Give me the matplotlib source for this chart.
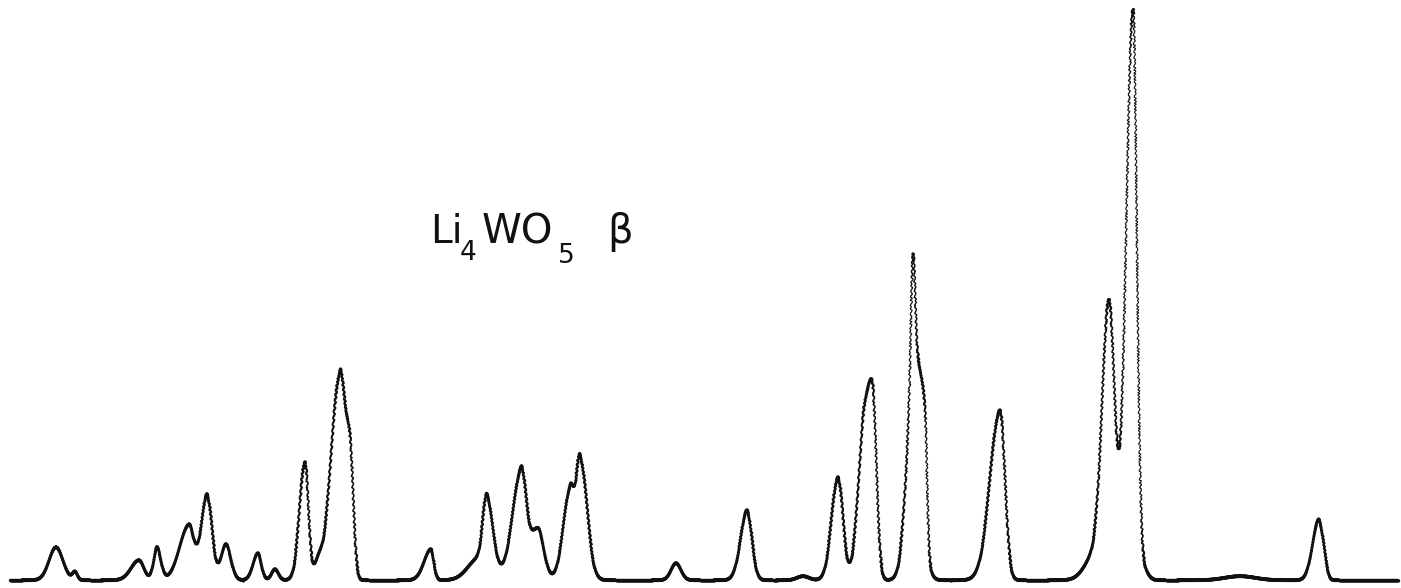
import numpy as np
import matplotlib
matplotlib.use("Agg")
import matplotlib.pyplot as plt
from matplotlib.collections import LineCollection

############################################
#       peaks  #
############################################
# position along the chart, height above baseline, left / right spread
peak_pos = [56, 75, 139, 157, 189, 207, 226, 258, 275, 305, 318, 340, 350,
            431, 479, 487, 521, 538, 570, 580, 676, 747, 803, 838, 862, 872,
            913, 914, 925, 1000, 1095, 1109, 1133, 1142, 1240, 1318, 1324]
peak_height = [33, 8, 20, 33, 55, 86, 36, 27, 11, 118, 15, 205, 118,
               31, 22, 73, 105, 52, 90, 122, 17, 70, 4, 103, 60, 198,
               112, 210, 110, 170, 25, 270, 568, 14, 4, 58, 18]
peak_wl = [7, 2.5, 8, 3.5, 9.5, 6, 5, 5, 3.5, 5.5, 4, 9, 4,
           7, 11, 4, 9, 9, 7, 4, 5, 6.6, 6, 6.5, 6, 8,
           2, 7, 5, 10, 10, 6.7, 6.9, 5, 15, 6, 3]
peak_wr = [7, 2.5, 5, 4, 5, 5, 5, 3.5, 3.5, 3.5, 4, 5, 3.5,
           3, 8, 6.5, 5, 6, 4, 7, 5, 5, 6, 5, 4, 4.2,
           2, 7, 2, 5, 10, 5.7, 3.8, 5, 15, 4, 3]

# label pieces: text, x, baseline height, size
label_parts = ["Li", "4", "WO", "5", "β"]
label_x = [430, 460, 482, 558, 607]
label_y = [337, 320, 337, 317, 337]
label_size = [28, 19, 29, 19, 29]

x_start, x_end = 10, 1398

############################################
#             build the trace              #
############################################
x = np.arange(x_start, x_end, 0.5)
y = np.zeros_like(x)
for p, h, wl, wr in zip(peak_pos, peak_height, peak_wl, peak_wr):
    w = np.where(x < p, wl, wr)
    y += h * np.exp(-(x - p) ** 2 / (2 * w ** 2))

# pen gets thinner where it moves fast
pts = np.column_stack([x, y]).reshape(-1, 1, 2)
segs = np.concatenate([pts[:-1], pts[1:]], axis=1)
slope = np.abs(np.diff(y) / np.diff(x))
widths = 2.5 / np.sqrt(1 + slope / 6)
widths = np.clip(widths, 0.8, 2.5)

############################################
#                  plot                    #
############################################
fig = plt.figure(figsize=(14.01, 5.88), dpi=100)
ax = fig.add_axes([0, 0, 1, 1])
lc = LineCollection(segs, linewidths=widths, colors="#111111", capstyle="round")
lc.set_sketch_params(1.0, 5, 3)
ax.add_collection(lc)
ax.set_xlim(0, 1401)
ax.set_ylim(-8, 580)
ax.axis("off")

for t, tx, ty, s in zip(label_parts, label_x, label_y, label_size):
    ax.text(tx, ty, t, fontsize=s, color="#111111", family="DejaVu Sans",
            ha="left", va="baseline")

fig.savefig("out.png", dpi=100)
